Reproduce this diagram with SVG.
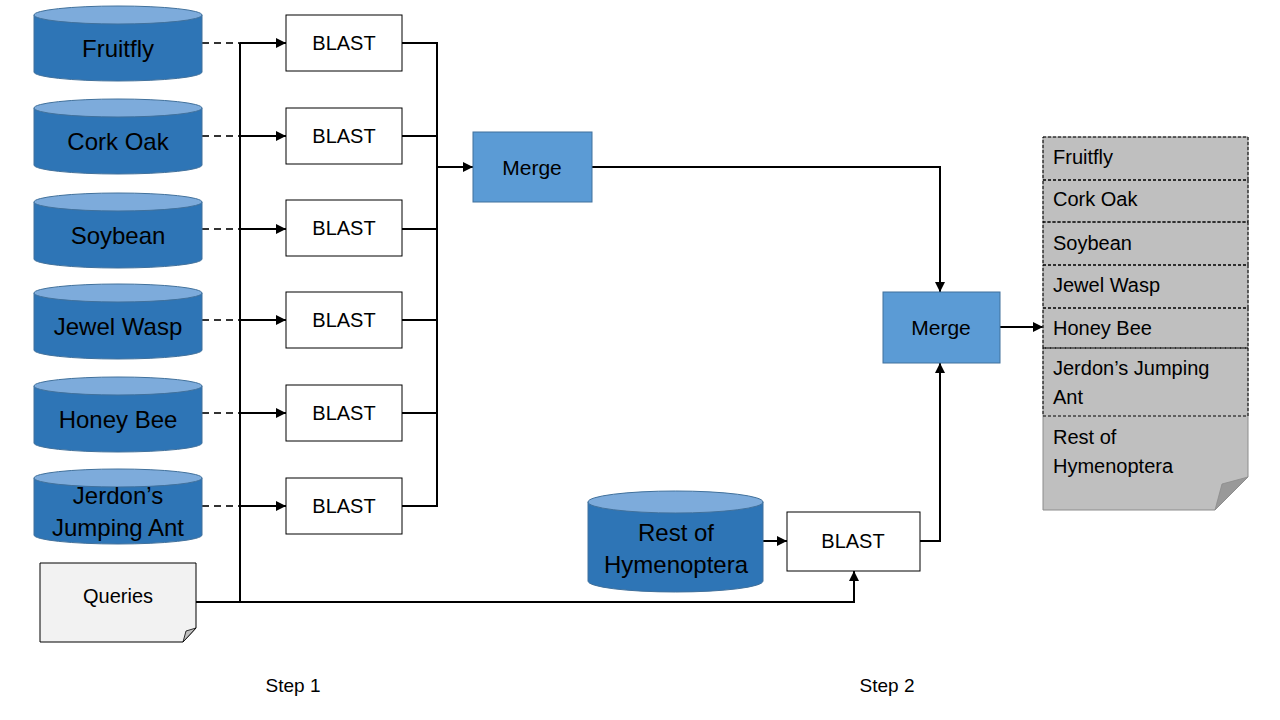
<svg xmlns="http://www.w3.org/2000/svg" width="1280" height="720" viewBox="0 0 1280 720">
<defs>
<marker id="ah" viewBox="0 0 10 10" refX="10" refY="5" markerWidth="5" markerHeight="5" orient="auto" markerUnits="strokeWidth"><path d="M0,0 L10,5 L0,10 Z" fill="#000"/></marker>
<style>
.cb{fill:#2e75b6;stroke:#41719c;stroke-width:1}
.ct{fill:#7dabdb;stroke:#41719c;stroke-width:1}
.t{font-family:"Liberation Sans",Arial,sans-serif;fill:#000;text-anchor:middle}
.ct24{font-size:24px}
.box{fill:#fff;stroke:#000;stroke-width:1}
.merge{fill:#5b9bd5;stroke:#41719c;stroke-width:1}
.ln{fill:none;stroke:#000;stroke-width:2}
.dl{fill:none;stroke:#333;stroke-width:2;stroke-dasharray:7,5}
.row{fill:none;stroke:#000;stroke-width:1;stroke-dasharray:3,2}
.lt{font-family:"Liberation Sans",Arial,sans-serif;font-size:20px;fill:#000}
</style>
<g id="cyl">
<path class="cb" d="M0,9 V66 A84,9 0 0,0 168,66 V9 Z"/>
<ellipse class="ct" cx="84" cy="9" rx="84" ry="9"/>
</g>
</defs>
<rect width="1280" height="720" fill="#fff"/>

<g id="connectors">
<path class="dl" d="M202,43 H240"/>
<path class="dl" d="M202,136 H240"/>
<path class="dl" d="M202,229 H240"/>
<path class="dl" d="M202,320 H240"/>
<path class="dl" d="M202,413 H240"/>
<path class="dl" d="M202,506 H240"/>
<path class="ln" d="M240,43 V602"/>
<path class="ln" d="M196,602 H240"/>
<path class="ln" marker-end="url(#ah)" d="M240,43 H286"/>
<path class="ln" marker-end="url(#ah)" d="M240,136 H286"/>
<path class="ln" marker-end="url(#ah)" d="M240,229 H286"/>
<path class="ln" marker-end="url(#ah)" d="M240,320 H286"/>
<path class="ln" marker-end="url(#ah)" d="M240,413 H286"/>
<path class="ln" marker-end="url(#ah)" d="M240,506 H286"/>
<path class="ln" d="M402,43 H437 V506 H402"/>
<path class="ln" d="M402,136 H437"/>
<path class="ln" d="M402,229 H437"/>
<path class="ln" d="M402,320 H437"/>
<path class="ln" d="M402,413 H437"/>
<path class="ln" marker-end="url(#ah)" d="M437,167 H473"/>
<path class="ln" marker-end="url(#ah)" d="M592,167 H940 V292"/>
<path class="ln" marker-end="url(#ah)" d="M240,602 H854 V571"/>
<path class="ln" marker-end="url(#ah)" d="M763,541 H787"/>
<path class="ln" marker-end="url(#ah)" d="M920,541 H940 V363"/>
<path class="ln" marker-end="url(#ah)" d="M1000,327 H1043"/>
</g>

<g id="db-fruitfly"><use href="#cyl" x="34" y="6"/><text class="t ct24" x="118" y="57">Fruitfly</text></g>
<g id="db-corkoak"><use href="#cyl" x="34" y="99"/><text class="t ct24" x="118" y="150">Cork Oak</text></g>
<g id="db-soybean"><use href="#cyl" x="34" y="193"/><text class="t ct24" x="118" y="244">Soybean</text></g>
<g id="db-jewelwasp"><use href="#cyl" x="34" y="284"/><text class="t ct24" x="118" y="335">Jewel Wasp</text></g>
<g id="db-honeybee"><use href="#cyl" x="34" y="377"/><text class="t ct24" x="118" y="428">Honey Bee</text></g>
<g id="db-jerdon"><use href="#cyl" x="34" y="469"/><text class="t ct24" x="118" y="504">Jerdon’s</text><text class="t ct24" x="118" y="536">Jumping Ant</text></g>

<g id="queries">
<path d="M40,563 H196 V628 L183,642 H40 Z" fill="#f2f2f2" stroke="#000" stroke-width="1"/>
<path d="M196,628 L183,642 L186,631 Z" fill="#bfbfbf" stroke="#000" stroke-width="0.8"/>
<text class="t" x="118" y="603" font-size="20">Queries</text>
</g>

<g id="blast1"><rect class="box" x="286" y="15" width="116" height="56"/><text class="t" x="344" y="50" font-size="20">BLAST</text></g>
<g id="blast2"><rect class="box" x="286" y="108" width="116" height="56"/><text class="t" x="344" y="143" font-size="20">BLAST</text></g>
<g id="blast3"><rect class="box" x="286" y="200" width="116" height="56"/><text class="t" x="344" y="235" font-size="20">BLAST</text></g>
<g id="blast4"><rect class="box" x="286" y="292" width="116" height="56"/><text class="t" x="344" y="327" font-size="20">BLAST</text></g>
<g id="blast5"><rect class="box" x="286" y="385" width="116" height="56"/><text class="t" x="344" y="420" font-size="20">BLAST</text></g>
<g id="blast6"><rect class="box" x="286" y="478" width="116" height="56"/><text class="t" x="344" y="513" font-size="20">BLAST</text></g>

<g id="merge1"><rect class="merge" x="473" y="132" width="119" height="70"/><text class="t" x="532" y="175" font-size="21">Merge</text></g>
<g id="merge2"><rect class="merge" x="883" y="292" width="117" height="71"/><text class="t" x="941" y="335" font-size="21">Merge</text></g>

<g id="db-rest">
<path class="cb" d="M588,502 V581 A87.5,11 0 0,0 763,581 V502 Z"/>
<ellipse class="ct" cx="675.5" cy="502" rx="87.5" ry="11"/>
<text class="t ct24" x="676" y="541">Rest of</text>
<text class="t ct24" x="676" y="573">Hymenoptera</text>
</g>

<g id="blast7"><rect class="box" x="787" y="512" width="133" height="59"/><text class="t" x="853" y="548" font-size="20">BLAST</text></g>

<g id="output">
<path d="M1043,137 H1248 V477 L1215,510 H1043 Z" fill="#bfbfbf" stroke="#8c8c8c" stroke-width="1"/>
<path d="M1248,477 L1215,510 L1222,484 Z" fill="#999" stroke="#8c8c8c" stroke-width="0.8"/>
<rect class="row" x="1043" y="137" width="205" height="43"/>
<rect class="row" x="1043" y="180" width="205" height="42"/>
<rect class="row" x="1043" y="222" width="205" height="43"/>
<rect class="row" x="1043" y="265" width="205" height="43"/>
<rect class="row" x="1043" y="308" width="205" height="40"/>
<rect class="row" x="1043" y="348" width="205" height="68"/>
<text class="lt" x="1053" y="164">Fruitfly</text>
<text class="lt" x="1053" y="206">Cork Oak</text>
<text class="lt" x="1053" y="250">Soybean</text>
<text class="lt" x="1053" y="292">Jewel Wasp</text>
<text class="lt" x="1053" y="335">Honey Bee</text>
<text class="lt" x="1053" y="375">Jerdon’s Jumping</text>
<text class="lt" x="1053" y="404">Ant</text>
<text class="lt" x="1053" y="444">Rest of</text>
<text class="lt" x="1053" y="473">Hymenoptera</text>
</g>

<g id="labels">
<text class="t" x="293" y="692" font-size="19">Step 1</text>
<text class="t" x="887" y="692" font-size="19">Step 2</text>
</g>
</svg>
